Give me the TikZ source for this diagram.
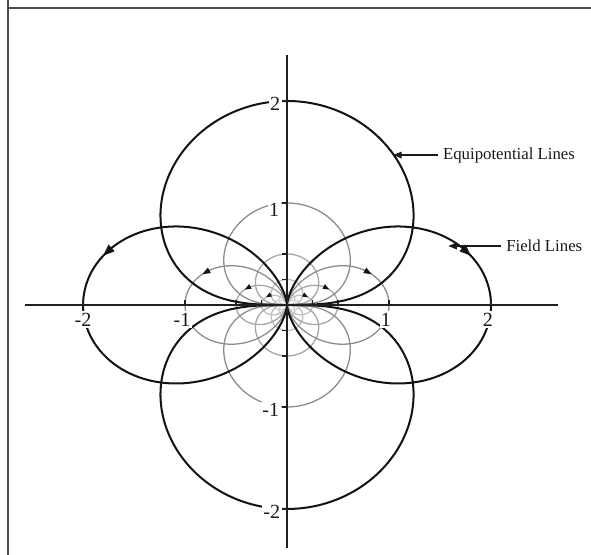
\documentclass[tikz,border=0pt]{standalone}
\usepackage{fontspec}
\setmainfont{Liberation Serif}
\usetikzlibrary{arrows.meta}

\begin{document}
\begin{tikzpicture}[
    x=2.5cm, y=2.5cm,
    frame/.style={draw=gray!60!black, line width=1.7pt},
    axis/.style={draw=gray!25!black, line width=1.3pt},
    dark/.style={draw=gray!15!black, line width=1.4pt},
    tick/.style={draw=gray!25!black, line width=1pt},
    numlab/.style={fill=white, inner sep=1pt, text=gray!20!black,
        font=\fontsize{14}{14}\selectfont},
    annot/.style={anchor=west, text=gray!20!black,
        font=\fontsize{11.7}{12}\selectfont},
    pointer/.style={-{Triangle[length=6pt, width=4.5pt]}, line width=1.2pt,
        draw=gray!20!black, fill=gray!20!black},
    tip/.style={-{Triangle[length=#1, width=0.75*#1]}, line width=0.8pt,
        draw=gray!15!black, fill=gray!15!black}
]
\clip (-2.814,-2.451) rectangle (2.980,2.990);
\draw[frame] (-2.735,3.3) |- (3.3,2.912) (-2.735,2.912) -- (-2.735,-2.8);

% Gray equipotential and field lines
\foreach \a/\col in {0.125/gray!35, 0.25/gray!50, 0.5/gray!70, 1/gray!90} {
  \draw[\col, line width=0.9pt] plot[domain=-90:90, samples=121]
    ({\a*sqrt(abs(cos(\x)))*sin(\x)}, {\a*abs(cos(\x))*sqrt(abs(cos(\x)))});
  \draw[\col, line width=0.9pt] plot[domain=-90:90, samples=121]
    ({\a*sqrt(abs(cos(\x)))*sin(\x)}, {-\a*abs(cos(\x))*sqrt(abs(cos(\x)))});
  \draw[\col, line width=0.9pt] plot[domain=-90:90, samples=121]
    ({\a*cos(\x)^3}, {\a*cos(\x)^2*sin(\x)});
  \draw[\col, line width=0.9pt] plot[domain=-90:90, samples=121]
    ({-\a*cos(\x)^3}, {\a*cos(\x)^2*sin(\x)});
}
% arrows on gray field lines
\foreach \a/\tl in {0.25/4pt, 0.5/4.5pt, 1/5.5pt} {
  \draw[tip=\tl] ({\a*cos(24)^3}, {\a*cos(24)^2*sin(24)})
    -- ({\a*cos(20)^3}, {\a*cos(20)^2*sin(20)});
  \draw[tip=\tl] ({-\a*cos(24)^3}, {\a*cos(24)^2*sin(24)})
    -- ({-\a*cos(20)^3}, {\a*cos(20)^2*sin(20)});
}

% Dark equipotential lines
\draw[dark] plot[domain=-90:90, samples=161]
  ({2*sqrt(abs(cos(\x)))*sin(\x)}, {2*abs(cos(\x))*sqrt(abs(cos(\x)))});
\draw[dark] plot[domain=-90:90, samples=161]
  ({2*sqrt(abs(cos(\x)))*sin(\x)}, {-2*abs(cos(\x))*sqrt(abs(cos(\x)))});
% Dark field lines
\draw[dark] plot[domain=-90:90, samples=161]
  ({2*cos(\x)^3}, {2*cos(\x)^2*sin(\x)});
\draw[dark] plot[domain=-90:90, samples=161]
  ({-2*cos(\x)^3}, {2*cos(\x)^2*sin(\x)});
\draw[tip=8pt, line width=1.4pt] ({2*cos(18)^3}, {2*cos(18)^2*sin(18)})
  -- ({2*cos(15)^3}, {2*cos(15)^2*sin(15)});
\draw[tip=8pt, line width=1.4pt] ({-2*cos(18)^3}, {2*cos(18)^2*sin(18)})
  -- ({-2*cos(15)^3}, {2*cos(15)^2*sin(15)});

% Axis labels
\node[numlab, anchor=east] (yp2) at (-0.05,1.97) {2};
\node[numlab, anchor=east] (yp1) at (-0.06,0.93) {1};
\node[numlab, anchor=east] (ym1) at (-0.06,-1.03) {-1};
\node[numlab, anchor=east] (ym2) at (-0.05,-2.03) {-2};
\node[numlab, anchor=north] (xm2) at (-2,-0.06) {-2};
\node[numlab, anchor=north] (xm1) at (-1.03,-0.06) {-1};
\node[numlab, anchor=north] (xp1) at (0.97,-0.06) {1};
\node[numlab, anchor=north] (xp2) at (1.97,-0.06) {2};

% Axes and ticks
\draw[axis] (-2.57,0) -- (2.66,0);
\draw[axis] (0,-2.38) -- (0,2.45);
\foreach \t in {-2,-1,-0.5,-0.25,0.25,0.5,1,2} {
  \draw[tick] (-0.05,\t) -- (0,\t);
  \draw[tick] (\t,0) -- (\t,0.05);
}

% Annotations
\node[annot] (eqlab) at (1.48,1.47) {Equipotential Lines};
\coordinate (eqtip) at (1.04,1.47);
\draw[pointer] (eqlab.west) -- (eqtip);
\node[annot] (fllab) at (2.10,0.578) {Field Lines};
\coordinate (fltip) at (1.58,0.578);
\draw[pointer] (fllab.west) -- (fltip);
\end{tikzpicture}
\end{document}
